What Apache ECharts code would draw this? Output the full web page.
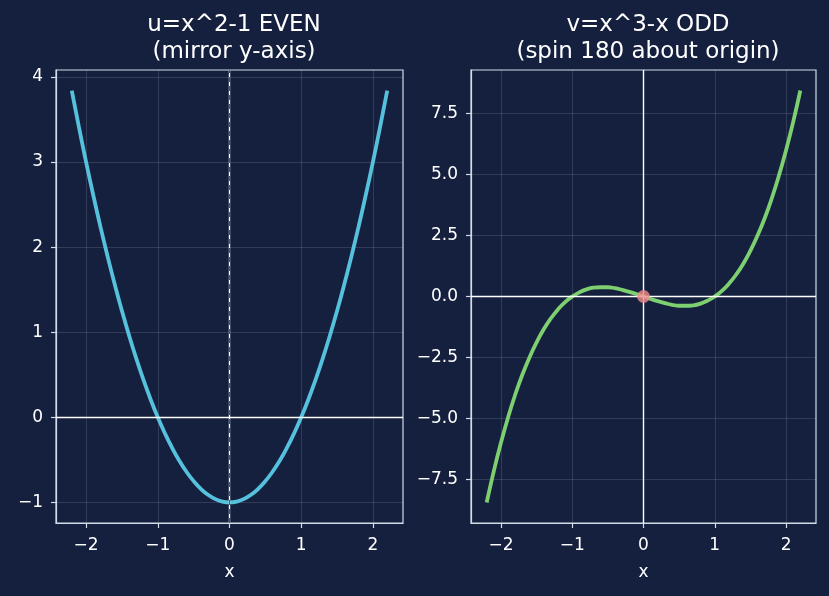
<!DOCTYPE html>
<html>
<head>
    <meta charset="utf-8">
    <title>even / odd</title>
    <script src="https://cdn.jsdelivr.net/npm/echarts@6/dist/echarts.min.js"></script>
    <style>
        body { margin: 0; background: #15203f; }
    </style>
</head>
<body>
    <div id="main" style="width: 829px;height:596px;"></div>
    <script type="text/javascript">
        // x 取样点
        const xs = [-2.2, -2.1, -2.0, -1.9, -1.8, -1.7, -1.6, -1.5, -1.4, -1.3, -1.2, -1.1, -1.0,
            -0.9, -0.8, -0.7, -0.6, -0.5, -0.4, -0.3, -0.2, -0.1, 0,
            0.1, 0.2, 0.3, 0.4, 0.5, 0.6, 0.7, 0.8, 0.9, 1.0, 1.1, 1.2, 1.3, 1.4,
            1.5, 1.6, 1.7, 1.8, 1.9, 2.0, 2.1, 2.2]
        // 左图 u 值
        const uVals = [3.84, 3.41, 3.0, 2.61, 2.24, 1.89, 1.56, 1.25, 0.96, 0.69, 0.44, 0.21, 0,
            -0.19, -0.36, -0.51, -0.64, -0.75, -0.84, -0.91, -0.96, -0.99, -1,
            -0.99, -0.96, -0.91, -0.84, -0.75, -0.64, -0.51, -0.36, -0.19, 0, 0.21, 0.44, 0.69, 0.96,
            1.25, 1.56, 1.89, 2.24, 2.61, 3.0, 3.41, 3.84]
        // 右图 v 值
        const vVals = [-8.45, -7.16, -6.0, -4.96, -4.03, -3.21, -2.50, -1.88, -1.34, -0.90, -0.53, -0.23, 0,
            0.17, 0.29, 0.36, 0.38, 0.38, 0.34, 0.27, 0.19, 0.10, 0,
            -0.10, -0.19, -0.27, -0.34, -0.38, -0.38, -0.36, -0.29, -0.17, 0, 0.23, 0.53, 0.90, 1.34,
            1.88, 2.50, 3.21, 4.03, 4.96, 6.0, 7.16, 8.45]
        // 刻度
        const xTicks = [-2, -1, 0, 1, 2]
        const uTicks = [-1, 0, 1, 2, 3, 4]
        const vTicks = [-7.5, -5, -2.5, 0, 2.5, 5, 7.5]

        const fg = '#ffffff'
        const frame = '#d3dbe8'
        const gridCol = 'rgba(255,255,255,0.13)'
        const font = 'DejaVu Sans'

        function minus(s) { return String(s).replace('-', '\u2212') }

        function xAxisOf(idx) {
            return {
                type: 'value', gridIndex: idx, min: -2.42, max: 2.42,
                name: 'x', nameLocation: 'middle', nameGap: 41,
                nameTextStyle: { color: fg, fontSize: 17, fontFamily: font },
                axisLine: { show: true, onZero: false, lineStyle: { color: frame, width: 1.2 } },
                axisTick: { show: true, length: 5, lineStyle: { color: frame, width: 1.2 }, customValues: xTicks },
                axisLabel: { color: fg, fontSize: 17, fontFamily: font, margin: 14,
                    customValues: xTicks, formatter: v => minus(v) },
                splitLine: { show: true, lineStyle: { color: gridCol } }
            }
        }

        function yAxisOf(idx, min, max, ticks, fmt) {
            return {
                type: 'value', gridIndex: idx, min: min, max: max,
                axisLine: { show: true, onZero: false, lineStyle: { color: frame, width: 1.2 } },
                axisTick: { show: true, length: 5, lineStyle: { color: frame, width: 1.2 }, customValues: ticks },
                axisLabel: { color: fg, fontSize: 17, fontFamily: font, margin: 13,
                    customValues: ticks, formatter: fmt },
                splitLine: { show: true, lineStyle: { color: gridCol } }
            }
        }

        const uData = xs.map((x, i) => [x, uVals[i]])
        const vData = xs.map((x, i) => [x, vVals[i]])

        let myChart = echarts.init(document.getElementById('main'))
        let option = {
            backgroundColor: '#15203f',
            animation: false,
            title: [
                { text: 'u=x^2-1 EVEN\n(mirror y-axis)', left: 229, top: 7, textAlign: 'center',
                    textStyle: { color: fg, fontSize: 23, fontWeight: 'normal', fontFamily: font, lineHeight: 27 } },
                { text: 'v=x^3-x ODD\n(spin 180 about origin)', left: 643, top: 7, textAlign: 'center',
                    textStyle: { color: fg, fontSize: 23, fontWeight: 'normal', fontFamily: font, lineHeight: 27 } }
            ],
            grid: [
                { left: 56, top: 70, width: 347, height: 453, show: true, borderColor: frame, borderWidth: 1.2, backgroundColor: 'transparent' },
                { left: 471, top: 70, width: 345, height: 453, show: true, borderColor: frame, borderWidth: 1.2, backgroundColor: 'transparent' }
            ],
            xAxis: [xAxisOf(0), xAxisOf(1)],
            yAxis: [
                yAxisOf(0, -1.242, 4.082, uTicks, v => minus(v)),
                yAxisOf(1, -9.29, 9.29, vTicks, v => minus(v.toFixed(1)))
            ],
            series: [
                {
                    type: 'line', xAxisIndex: 0, yAxisIndex: 0, data: uData, smooth: true,
                    showSymbol: false, lineStyle: { color: '#56c1dc', width: 3.8 }, z: 3,
                    markLine: {
                        silent: true, symbol: 'none', label: { show: false },
                        data: [
                            { yAxis: 0, lineStyle: { color: '#ffffff', width: 1.4, type: 'solid' } },
                            { xAxis: 0, lineStyle: { color: '#ffffff', width: 1.4, type: 'solid' } },
                            { xAxis: 0, lineStyle: { color: '#2a2c30', width: 0.8, type: [5, 4] } }
                        ]
                    }
                },
                {
                    type: 'line', xAxisIndex: 1, yAxisIndex: 1, data: vData, smooth: true,
                    showSymbol: false, lineStyle: { color: '#7dcf6f', width: 3.8 }, z: 3,
                    markLine: {
                        silent: true, symbol: 'none', label: { show: false },
                        data: [
                            { yAxis: 0, lineStyle: { color: '#ffffff', width: 1.4, type: 'solid' } },
                            { xAxis: 0, lineStyle: { color: '#ffffff', width: 1.4, type: 'solid' } }
                        ]
                    }
                },
                {
                    type: 'scatter', xAxisIndex: 1, yAxisIndex: 1, data: [[0, 0]],
                    symbolSize: 13, itemStyle: { color: '#f08a8a' }, z: 5
                }
            ]
        }
        myChart.setOption(option)
    </script>
</body>
</html>
